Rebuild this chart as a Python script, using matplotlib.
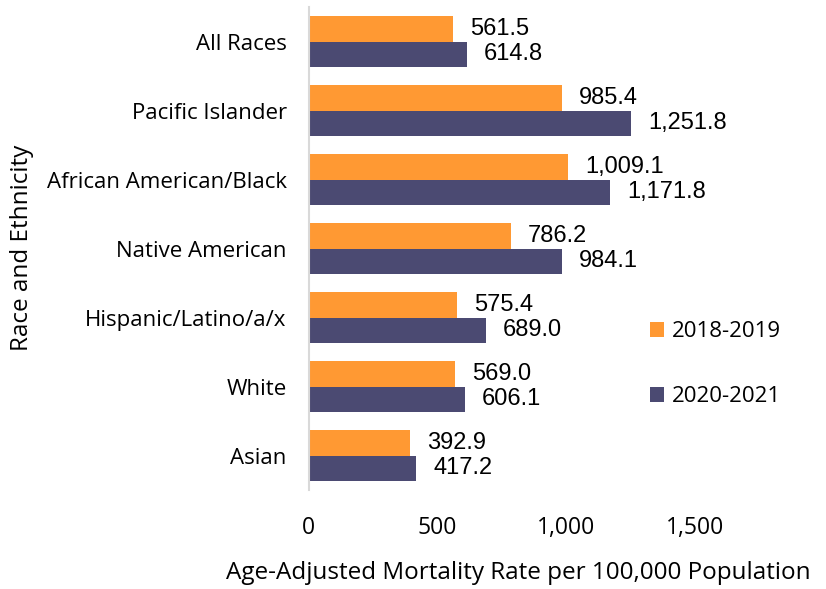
import matplotlib
matplotlib.use("Agg")
import matplotlib.pyplot as plt
import numpy as np

# Datos (de arriba a abajo)
categories = ["All Races", "Pacific Islander", "African American/Black", "Native American",
              "Hispanic/Latino/a/x", "White", "Asian"]
rate_2018_2019 = [561.5, 985.4, 1009.1, 786.2, 575.4, 569.0, 392.9]
rate_2020_2021 = [614.8, 1251.8, 1171.8, 984.1, 689.0, 606.1, 417.2]
series_labels = ["2018-2019", "2020-2021"]
x_ticks = [0, 500, 1000, 1500]

ORANGE = "#FF9933"
NAVY = "#4B4A72"

plt.rcParams["font.family"] = ["Open Sans", "DejaVu Sans"]

fig = plt.figure(figsize=(8.26, 5.89), dpi=100)
ax = fig.add_axes([0.374, 0.168, 0.467, 0.820])

y = np.arange(len(categories))
h = 0.37
b1 = ax.barh(y - h / 2, rate_2018_2019, height=h, color=ORANGE, label=series_labels[0])
b2 = ax.barh(y + h / 2, rate_2020_2021, height=h, color=NAVY, label=series_labels[1])

# etiquetas de valor a la derecha de cada barra
for bars, vals in ((b1, rate_2018_2019), (b2, rate_2020_2021)):
    for bar, v in zip(bars, vals):
        ax.annotate(f"{v:,.1f}", (bar.get_width(), bar.get_y() + bar.get_height() / 2),
                    xytext=(17, 0), textcoords="offset pixels",
                    va="center", ha="left", fontsize=17, family="Liberation Sans")

ax.set_ylim(len(categories) - 0.5, -0.5)
ax.set_xlim(0, 1500)
ax.set_yticks(y)
ax.set_yticklabels(categories, fontsize=16)
ax.set_xticks(x_ticks)
ax.set_xticklabels([f"{t:,}" for t in x_ticks], fontsize=16.5)
ax.tick_params(axis="y", length=0, pad=16)
ax.tick_params(axis="x", length=0, pad=19)
for s in ("top", "right", "bottom"):
    ax.spines[s].set_visible(False)
ax.spines["left"].set_color("#D9D9D9")
ax.spines["left"].set_linewidth(1.5)

fig.text(0.027, 0.58, "Race and Ethnicity", rotation=90, ha="center", va="center", fontsize=17.5)
fig.text(0.627, 0.027, "Age-Adjusted Mortality Rate per 100,000 Population",
         ha="center", va="center", fontsize=17.5)

ax.legend(handles=[b1, b2], loc="upper left", bbox_to_anchor=(0.787, 0.455),
          bbox_transform=fig.transFigure, frameon=False, fontsize=16,
          borderpad=0, borderaxespad=0,
          handlelength=0.64, handleheight=0.64, handletextpad=0.36, labelspacing=2.0)

fig.savefig("out.png", dpi=100)
